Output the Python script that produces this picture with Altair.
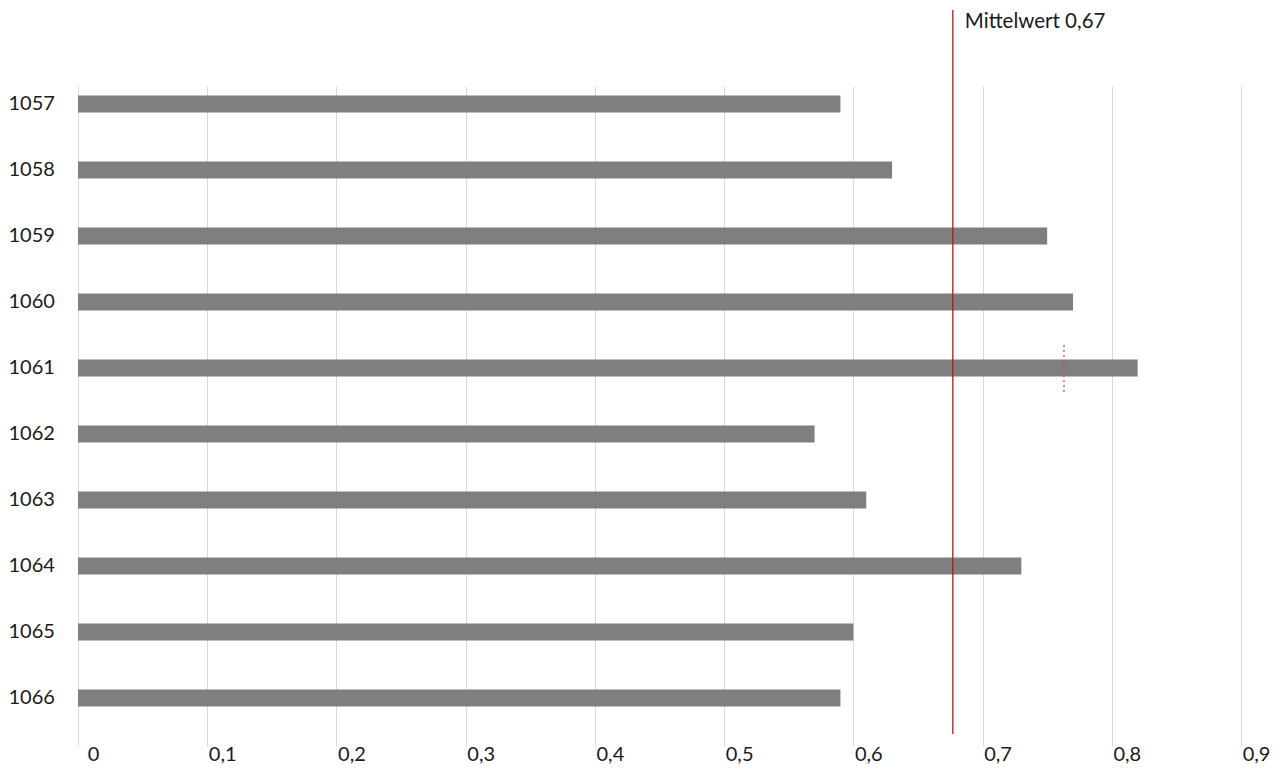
import altair as alt
import pandas as pd

categories = ["1057", "1058", "1059", "1060", "1061", "1062", "1063", "1064", "1065", "1066"]
values = [0.590, 0.630, 0.750, 0.770, 0.820, 0.570, 0.610, 0.730, 0.600, 0.590]
mean_value = 0.677
mean_label = "Mittelwert 0,67"
marker_category = "1061"
marker_value = 0.763
x_ticks = [0, 0.1, 0.2, 0.3, 0.4, 0.5, 0.6, 0.7, 0.8, 0.9]

FONT = "Lato"
bars_df = pd.DataFrame({"cat": categories, "val": values})
mean_df = pd.DataFrame({"val": [mean_value], "label": [mean_label]})
marker_df = pd.DataFrame({"cat": [marker_category], "val": [marker_value]})

x_scale = alt.Scale(domain=[0, 0.9], nice=False, zero=True)
y_scale = alt.Scale(domain=categories, range=[-8, 652], paddingInner=0, paddingOuter=0)

bars = alt.Chart(bars_df).mark_bar(size=17, color="#7f7f7f").encode(
    x=alt.X("val:Q", scale=x_scale, axis=alt.Axis(
        values=x_ticks, title=None, grid=True, gridColor="#d9d9d9", gridWidth=1,
        domain=False, ticks=False, labelFontSize=20, labelFont=FONT, labelColor="#1a1a1a",
        labelAlign="center", labelOffset=15, labelPadding=6,
        labelExpr="replace(format(datum.value, '~g'), '.', ',')")),
    y=alt.Y("cat:N", scale=y_scale, sort=categories, axis=alt.Axis(
        title=None, ticks=False, domain=False,
        labelFontSize=20, labelFont=FONT, labelColor="#1a1a1a",
        labelAlign="left", labelPadding=70, grid=False)),
)

mean_rule = alt.Chart(mean_df).mark_rule(color="#b8141c", strokeWidth=1.3).encode(
    x=alt.X("val:Q", scale=x_scale),
    y=alt.value(-69),
    y2=alt.value(655),
)

mean_text = alt.Chart(mean_df).mark_text(
    align="left", baseline="middle", dx=12, fontSize=20.5, font=FONT, color="#1a1a1a"
).encode(
    x=alt.X("val:Q", scale=x_scale),
    y=alt.value(-57),
    text="label:N",
)

marker = alt.Chart(marker_df).mark_rule(
    color="#e03c3c", strokeWidth=1.2, strokeDash=[2, 3], yOffset=-23, y2Offset=24
).encode(
    x=alt.X("val:Q", scale=x_scale),
    y=alt.Y("cat:N", scale=y_scale, sort=categories),
    y2=alt.Y2("cat:N"),
)

chart = alt.layer(bars, mean_rule, mean_text, marker).properties(
    width=1163, height=659,
    autosize=alt.AutoSizeParams(type="none"),
    padding={"left": 70, "top": 71, "right": 30, "bottom": 40},
).configure(background="white").configure_view(stroke=None, strokeWidth=0)

chart.save("out.html", embed_options={"renderer": "svg", "actions": False})
